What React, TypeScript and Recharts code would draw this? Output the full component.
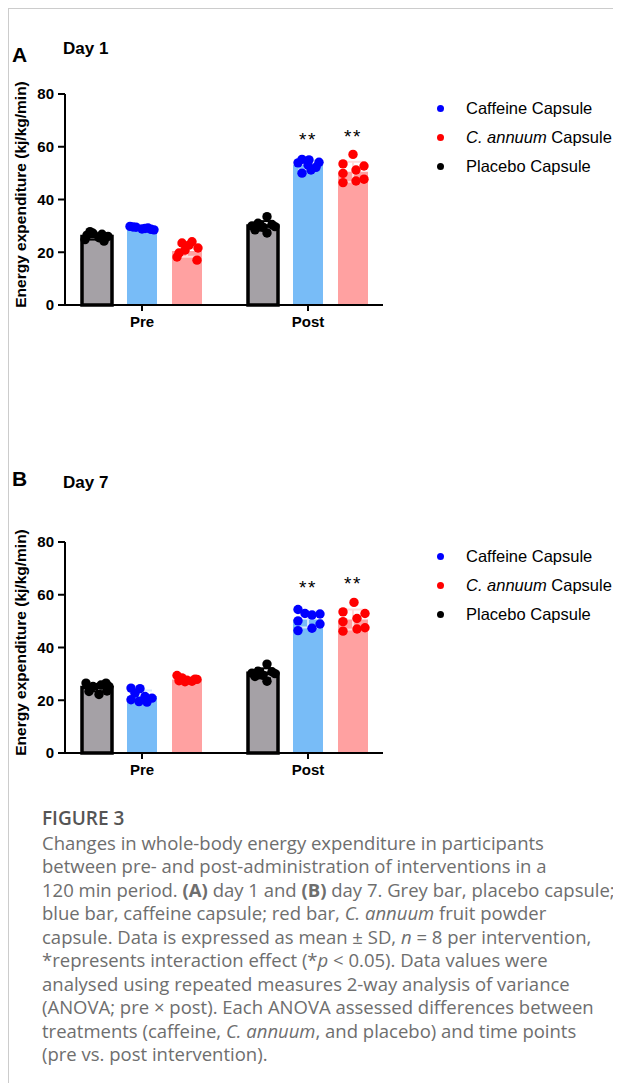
import React from 'react';
import { ComposedChart, Bar, XAxis, YAxis, Scatter, ErrorBar, Legend } from 'recharts';

const CATEGORIES = ['Pre', 'Post'];
const Y_TICKS = [0, 20, 40, 60, 80];

// Day 1: bar means and SD
const DAY1_PLACEBO_MEAN = [26.0, 30.0];
const DAY1_PLACEBO_SD = [1.2, 1.8];
const DAY1_CAFFEINE_MEAN = [29.1, 53.1];
const DAY1_CAFFEINE_SD = [0.5, 1.8];
const DAY1_ANNUUM_MEAN = [20.5, 50.5];
const DAY1_ANNUUM_SD = [2.2, 3.8];

// Day 1: individual participants (pre, post)
const DAY1_PLACEBO_PTS = [
  [26.5, 27.2, 25.5, 24.2, 27.8, 26.0, 24.8, 26.8],
  [30.0, 31.0, 29.5, 33.5, 27.3, 30.5, 28.5, 29.7],
];
const DAY1_CAFFEINE_PTS = [
  [29.8, 29.5, 28.8, 29.2, 28.5, 29.6, 29.0, 28.7],
  [53.9, 55.2, 55.0, 54.1, 50.0, 51.2, 53.1, 52.2],
];
const DAY1_ANNUUM_PTS = [
  [18.2, 17.0, 20.8, 22.7, 24.0, 23.5, 21.6, 19.7],
  [57.1, 53.5, 49.9, 46.4, 51.2, 52.7, 47.0, 47.7],
];
const DAY1_SIG = [64.1, 65.2]; // "**" over caffeine / C. annuum post

// Day 7
const DAY7_PLACEBO_MEAN = [24.8, 30.2];
const DAY7_PLACEBO_SD = [1.4, 1.9];
const DAY7_CAFFEINE_MEAN = [21.6, 50.6];
const DAY7_CAFFEINE_SD = [2.1, 3.0];
const DAY7_ANNUUM_MEAN = [27.9, 50.6];
const DAY7_ANNUUM_SD = [0.8, 3.8];

const DAY7_PLACEBO_PTS = [
  [26.5, 25.2, 25.8, 26.5, 25.2, 23.3, 22.2, 23.5],
  [30.3, 31.0, 29.5, 33.7, 27.2, 30.8, 29.0, 30.1],
];
const DAY7_CAFFEINE_PTS = [
  [24.6, 24.4, 22.7, 21.4, 20.2, 19.5, 20.8, 19.3],
  [54.4, 52.9, 52.3, 52.7, 50.1, 48.9, 46.4, 47.3],
];
const DAY7_ANNUUM_PTS = [
  [29.4, 28.5, 27.6, 27.2, 27.9, 27.0, 28.0, 27.4],
  [57.1, 53.5, 52.9, 49.8, 51.0, 46.2, 47.0, 47.5],
];
const DAY7_SIG = [64.0, 65.5];

// horizontal scatter spread of the dots (px from bar centre)
const JIT_A_PLACEBO = [[-10, -4, 2, 7, -7, 11, -12, 5], [-11, -5, 0, 4, 4, 9, -8, 12]];
const JIT_A_CAFFEINE = [[-12, -6, 0, 6, 12, -9, 3, 9], [-10, -6, 1, 11, -6, 3, 0, 8]];
const JIT_A_ANNUUM = [[-10, 10, -2, 2, 5, -5, 11, -8], [0, -10, -10, -10, 3, 11, 3, 11]];
const JIT_B_PLACEBO = [[-11, -4, 4, 9, 12, -8, 2, 10], [-11, -5, 0, 4, 4, 9, -8, 12]];
const JIT_B_CAFFEINE = [[-11, -2, -7, 3, -11, -3, 10, 5], [-10, -3, 4, 12, -10, 12, -10, 4]];
const JIT_B_ANNUUM = [[-10, -5, 0, 5, 10, -2, 8, -8], [1, -10, 12, -10, 4, -10, 4, 12]];

const FONT = 'Arial, "Liberation Sans", sans-serif';
const BAND = 166;
const BAR_SIZE = 30;
const BAR_GAP = 15;
const X_PAD = { left: -6, right: -8 };

const C_PLACEBO = '#a5a1a6';
const C_CAFFEINE = '#78bcf7';
const C_ANNUUM = '#ffa1a1';

const LEGEND_ITEMS = [
  { color: '#0000ff', label: <>Caffeine Capsule</> },
  { color: '#ff0000', label: <><i>C. annuum</i> Capsule</> },
  { color: '#000000', label: <>Placebo Capsule</> },
];

const toDots = (pts: number[][], jit: number[][], slot: number) =>
  pts.flatMap((vals, c) =>
    vals.map((v, i) => ({ x: c + 0.5 + (slot * (BAR_SIZE + BAR_GAP) + jit[c][i]) / BAND, y: v }))
  );

const dot = (color: string) => (p: any) => <circle cx={p.cx} cy={p.cy} r={4.7} fill={color} />;

const LegendBox = () => (
  <div style={{ fontFamily: FONT, fontSize: 16.5, color: '#000', whiteSpace: 'nowrap' }}>
    {LEGEND_ITEMS.map((it, i) => (
      <div key={i} style={{ position: 'relative', height: 29, lineHeight: '29px', paddingLeft: 37 }}>
        <span style={{ position: 'absolute', left: 7.5, top: 11, width: 7, height: 7, borderRadius: '50%', background: it.color }} />
        {it.label}
      </div>
    ))}
  </div>
);

interface PanelProps {
  placeboMean: number[]; placeboSd: number[];
  caffeineMean: number[]; caffeineSd: number[];
  annuumMean: number[]; annuumSd: number[];
  placeboPts: number[][]; caffeinePts: number[][]; annuumPts: number[][];
  jit: number[][][];
  sig: number[];
}

const Panel: React.FC<PanelProps> = (p) => {
  const rows = CATEGORIES.map((cat, i) => ({
    cat,
    placebo: p.placeboMean[i], placeboSd: p.placeboSd[i],
    caffeine: p.caffeineMean[i], caffeineSd: p.caffeineSd[i],
    annuum: p.annuumMean[i], annuumSd: p.annuumSd[i],
  }));
  const sigPts = [
    { x: 1.5, y: p.sig[0] },
    { x: 1.5 + (BAR_SIZE + BAR_GAP) / BAND, y: p.sig[1] },
  ];
  const tick = { fill: '#000', fontSize: 15, fontWeight: 700, fontFamily: FONT };
  const axisLine = { stroke: '#000', strokeWidth: 2 };
  return (
    <ComposedChart width={612} height={340} data={rows} margin={{ top: 85, right: 238, bottom: 14, left: 16 }}
      barSize={BAR_SIZE} barGap={BAR_GAP}>
      <XAxis xAxisId="cat" dataKey="cat" padding={X_PAD} axisLine={axisLine} tickLine={axisLine}
        tickSize={6} tickMargin={5} tick={tick} height={30} />
      <XAxis xAxisId="num" dataKey="x" type="number" domain={[0, 2]} padding={X_PAD} hide allowDataOverflow />
      <YAxis domain={[0, 80]} ticks={Y_TICKS} width={40} axisLine={axisLine} tickLine={axisLine}
        tickSize={7} tickMargin={4} tick={tick} interval={0}
        label={{
          content: ({ viewBox }: any) => {
            const cx = 11.5;
            const cy = viewBox.y + viewBox.height / 2 - 5;
            return (
              <text x={cx} y={cy} transform={`rotate(-90 ${cx} ${cy})`} textAnchor="middle"
                dominantBaseline="central" fontFamily={FONT} fontWeight={700} fontSize={15.5} fill="#000">
                Energy expenditure (kj/kg/min)
              </text>
            );
          },
        }} />
      <Bar xAxisId="cat" dataKey="placebo" fill={C_PLACEBO} stroke="#000" strokeWidth={3.5} isAnimationActive={false}>
        <ErrorBar dataKey="placeboSd" width={8} stroke="#000" strokeWidth={2} direction="y" />
      </Bar>
      <Bar xAxisId="cat" dataKey="caffeine" fill={C_CAFFEINE} isAnimationActive={false}>
        <ErrorBar dataKey="caffeineSd" width={10} stroke="#d6eafd" strokeWidth={2} direction="y" />
      </Bar>
      <Bar xAxisId="cat" dataKey="annuum" fill={C_ANNUUM} isAnimationActive={false}>
        <ErrorBar dataKey="annuumSd" width={10} stroke="#ffdcdc" strokeWidth={2} direction="y" />
      </Bar>
      <Scatter xAxisId="num" data={toDots(p.placeboPts, p.jit[0], -1)} dataKey="y" shape={dot('#000')} isAnimationActive={false} />
      <Scatter xAxisId="num" data={toDots(p.caffeinePts, p.jit[1], 0)} dataKey="y" shape={dot('#0000ff')} isAnimationActive={false} />
      <Scatter xAxisId="num" data={toDots(p.annuumPts, p.jit[2], 1)} dataKey="y" shape={dot('#ff0000')} isAnimationActive={false} />
      <Scatter xAxisId="num" data={sigPts} dataKey="y" isAnimationActive={false}
        shape={(s: any) => (
          <text x={s.cx} y={s.cy + 10} textAnchor="middle" fontFamily={FONT} fontSize={19} letterSpacing={1.5} fill="#000">**</text>
        )} />
      <Legend layout="horizontal" verticalAlign="middle" align="center"
        wrapperStyle={{ left: 420, top: 85, width: 192 }} content={() => <LegendBox />} />
    </ComposedChart>
  );
};

const abs = (left: number, top: number, extra: React.CSSProperties = {}): React.CSSProperties => ({
  position: 'absolute', left, top, lineHeight: 1, fontFamily: FONT, fontWeight: 700, color: '#000', whiteSpace: 'nowrap', ...extra,
});

const CAPTION: React.ReactNode[] = [
  <>Changes in whole-body energy expenditure in participants</>,
  <>between pre- and post-administration of interventions in a</>,
  <>120 min period. <b>(A)</b> day 1 and <b>(B)</b> day 7. Grey bar, placebo capsule;</>,
  <>blue bar, caffeine capsule; red bar, <i>C. annuum</i> fruit powder</>,
  <>capsule. Data is expressed as mean ± SD, <i>n</i> = 8 per intervention,</>,
  <>*represents interaction effect (*<i>p</i> &lt; 0.05). Data values were</>,
  <>analysed using repeated measures 2-way analysis of variance</>,
  <>(ANOVA; pre × post). Each ANOVA assessed differences between</>,
  <>treatments (caffeine, <i>C. annuum</i>, and placebo) and time points</>,
  <>(pre vs. post intervention).</>,
];

export default function App() {
  return (
    <div style={{
      position: 'relative', width: 613, height: 1075, boxSizing: 'border-box', background: '#fff',
      borderTop: '1px solid #cccccc', borderLeft: '1px solid #cccccc',
    }}>
      <div style={{ position: 'absolute', left: 0, top: 0 }}>
        <Panel placeboMean={DAY1_PLACEBO_MEAN} placeboSd={DAY1_PLACEBO_SD}
          caffeineMean={DAY1_CAFFEINE_MEAN} caffeineSd={DAY1_CAFFEINE_SD}
          annuumMean={DAY1_ANNUUM_MEAN} annuumSd={DAY1_ANNUUM_SD}
          placeboPts={DAY1_PLACEBO_PTS} caffeinePts={DAY1_CAFFEINE_PTS} annuumPts={DAY1_ANNUUM_PTS}
          jit={[JIT_A_PLACEBO, JIT_A_CAFFEINE, JIT_A_ANNUUM]} sig={DAY1_SIG} />
      </div>
      <div style={{ position: 'absolute', left: 0, top: 448 }}>
        <Panel placeboMean={DAY7_PLACEBO_MEAN} placeboSd={DAY7_PLACEBO_SD}
          caffeineMean={DAY7_CAFFEINE_MEAN} caffeineSd={DAY7_CAFFEINE_SD}
          annuumMean={DAY7_ANNUUM_MEAN} annuumSd={DAY7_ANNUUM_SD}
          placeboPts={DAY7_PLACEBO_PTS} caffeinePts={DAY7_CAFFEINE_PTS} annuumPts={DAY7_ANNUUM_PTS}
          jit={[JIT_B_PLACEBO, JIT_B_CAFFEINE, JIT_B_ANNUUM]} sig={DAY7_SIG} />
      </div>
      <div style={abs(3, 35, { fontSize: 21 })}>A</div>
      <div style={abs(54, 31, { fontSize: 17 })}>Day 1</div>
      <div style={abs(3, 459, { fontSize: 21 })}>B</div>
      <div style={abs(54, 465, { fontSize: 17 })}>Day 7</div>
      <div style={{ position: 'absolute', left: 33, top: 798, fontFamily: '"Open Sans", sans-serif', color: '#6e6e6e', fontSize: 18.5, lineHeight: '23.5px', whiteSpace: 'nowrap' }}>
        <div style={{ fontSize: 19, fontWeight: 600, color: '#555' }}>FIGURE 3</div>
        {CAPTION.map((line, i) => (
          <div key={i}>{line}</div>
        ))}
      </div>
    </div>
  );
}
